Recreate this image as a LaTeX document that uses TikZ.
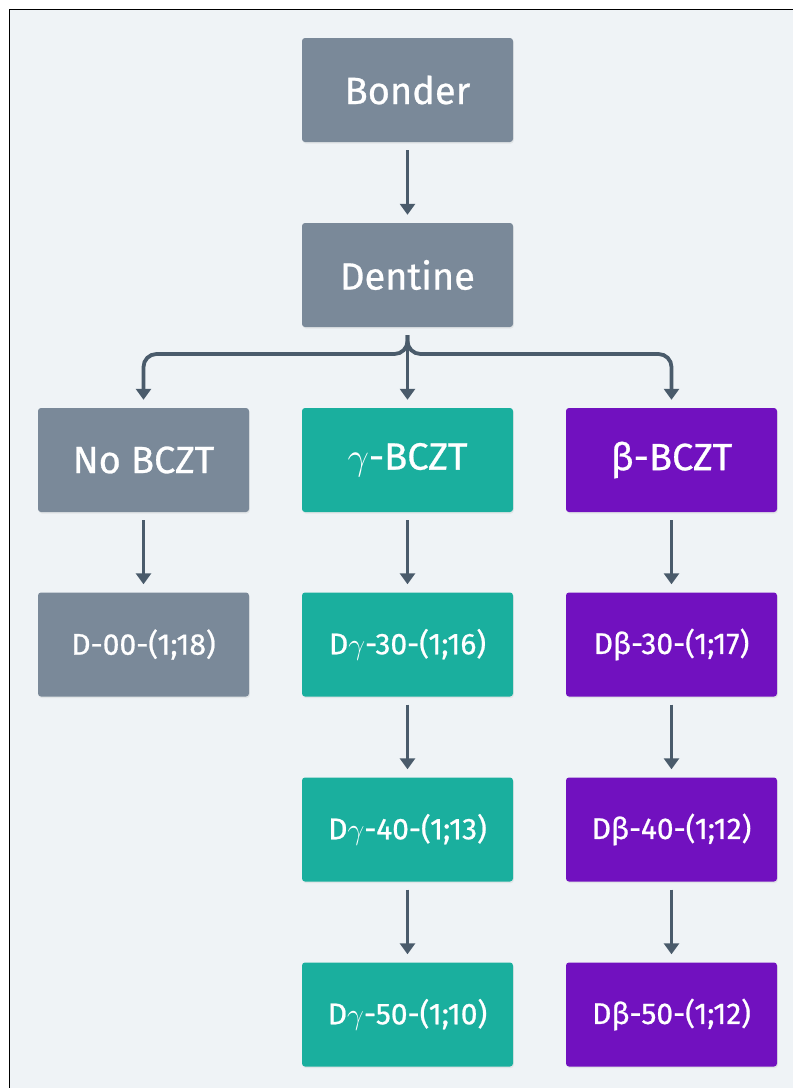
\RequirePackage{fix-cm}
\documentclass[tikz,border=0pt]{standalone}
\usepackage{fontspec}
\setmainfont{Fira Sans}[FakeBold=0.7]
\usetikzlibrary{arrows.meta,shadows}
\definecolor{bgcol}{HTML}{EFF3F6}
\definecolor{slate}{HTML}{7A8999}
\definecolor{teal}{HTML}{1AAF9E}
\definecolor{violet}{HTML}{7111BF}
\definecolor{wire}{HTML}{4A5B6B}
\tikzset{
  box/.style={minimum width=211pt, minimum height=104pt, inner sep=0pt,
    rounded corners=3pt, text=white,
    drop shadow={opacity=0.12, shadow xshift=0.8pt, shadow yshift=-1.5pt}},
  big/.style={font=\fontsize{38}{41}\selectfont},
  small/.style={font=\fontsize{30}{33}\selectfont},
  grey/.style={box, fill=slate},
  green/.style={box, fill=teal},
  purple/.style={box, fill=violet},
  link/.style={draw=wire, line width=3.8pt,
    -{Triangle[width=15pt,length=11pt]},
    shorten <=8pt, shorten >=8pt}
}
\begin{document}
\begin{tikzpicture}[x=1pt,y=-1pt]
  % page and frame
  \useasboundingbox (0,0) rectangle (793,1088);
  \fill[white] (0,0) rectangle (793,1088);
  \fill[bgcol] (10,10) rectangle (793,1088);
  \draw[black, line width=1.6pt] (9.5,1088) -- (9.5,9.5) -- (793,9.5);

  % top chain
  \node[grey, big] (bon) at (407.5,90) {Bonder};
  \node[grey, big] (den) at (407.5,275) {Dentine};

  % three branches
  \node[grey, big]   (nob) at (143.5,460) {No BCZT};
  \node[green, big]  (gam) at (407.5,460) {$\gamma$-BCZT};
  \node[purple, big] (bet) at (671.5,460) {β-BCZT};

  % samples
  \node[grey, small]   (d00) at (143.5,644.5) {D-00-(1;18)};
  \node[green, small]  (g30) at (407.5,644.5) {D$\gamma$-30-(1;16)};
  \node[green, small]  (g40) at (407.5,829.5) {D$\gamma$-40-(1;13)};
  \node[green, small]  (g50) at (407.5,1014.5) {D$\gamma$-50-(1;10)};
  \node[purple, small] (b30) at (671.5,644.5) {Dβ-30-(1;17)};
  \node[purple, small] (b40) at (671.5,829.5) {Dβ-40-(1;12)};
  \node[purple, small] (b50) at (671.5,1014.5) {Dβ-50-(1;12)};

  % connectors
  \coordinate (fork) at (407.5,354);
  \draw[link] (bon) -- (den);
  \draw[link, rounded corners=13pt] (den.south) -- (fork) -| (nob.north);
  \draw[link, rounded corners=13pt] (den.south) -- (fork) -| (bet.north);
  \draw[link] (den) -- (gam);
  \draw[link] (nob) -- (d00);
  \draw[link] (gam) -- (g30);
  \draw[link] (g30) -- (g40);
  \draw[link] (g40) -- (g50);
  \draw[link] (bet) -- (b30);
  \draw[link] (b30) -- (b40);
  \draw[link] (b40) -- (b50);
\end{tikzpicture}
\end{document}
